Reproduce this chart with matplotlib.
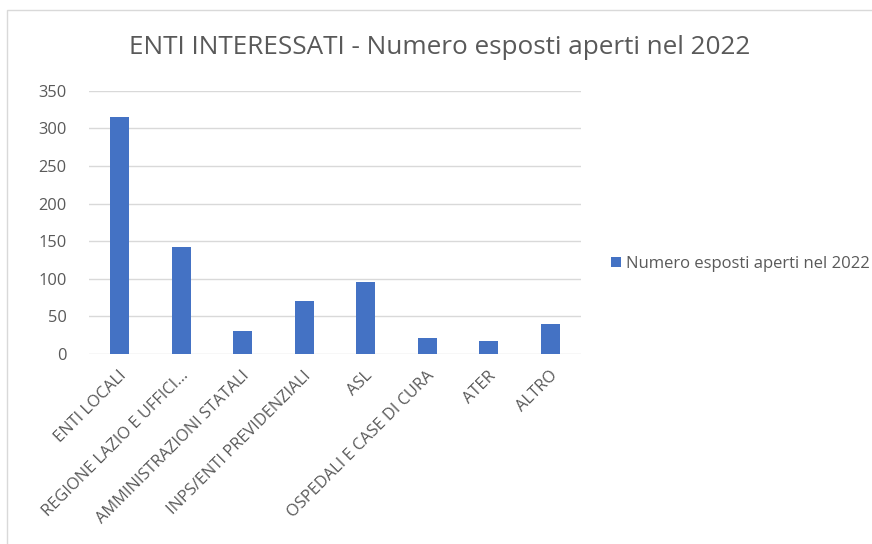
import matplotlib
matplotlib.use("Agg")
import matplotlib.pyplot as plt
import matplotlib.transforms as mtrans
from matplotlib.patches import Rectangle

categories = ["ENTI LOCALI", "REGIONE LAZIO E UFFICI...", "AMMINISTRAZIONI STATALI",
              "INPS/ENTI PREVIDENZIALI", "ASL", "OSPEDALI E CASE DI CURA", "ATER", "ALTRO"]
values = [315, 142, 30, 70, 96, 21, 17, 40]
yticks = [0, 50, 100, 150, 200, 250, 300, 350]
series_name = "Numero esposti aperti nel 2022"
title = "ENTI INTERESSATI - Numero esposti aperti nel 2022"

plt.rcParams['font.family'] = ['Open Sans', 'DejaVu Sans']
txt = "#595959"
bar_color = "#4472C4"

fig = plt.figure(figsize=(8.72, 5.44), dpi=100)
fig.patches.append(Rectangle((7/872, -0.1), 1.2, 1 - 10/544 + 0.1, transform=fig.transFigure,
                             fill=False, edgecolor="#d9d9d9", linewidth=1))

ax = fig.add_axes([89/872, 1 - 354/544, (581 - 89)/872, (354 - 90.7)/544])
x = list(range(len(categories)))
ax.bar(x, values, width=0.31, color=bar_color, label=series_name, zorder=3)
ax.set_xlim(-0.5, len(categories) - 0.5)
ax.set_ylim(0, 350)
ax.set_yticks(yticks)
ax.set_yticklabels([str(v) for v in yticks])
ax.yaxis.grid(True, color="#d9d9d9", linewidth=1, zorder=0)
for s in ax.spines.values():
    s.set_visible(False)
ax.tick_params(axis='both', length=0, colors=txt, labelsize=11.8)
ax.tick_params(axis='y', pad=16)
ax.set_xticks(x)
ax.set_xticklabels(categories, rotation=45, ha='right', rotation_mode='anchor')
ax.tick_params(axis='x', pad=10)
off = mtrans.ScaledTranslation(-1/100, 0, fig.dpi_scale_trans)
for lbl in ax.get_xticklabels():
    lbl.set_transform(lbl.get_transform() + off)

fig.text(440/872, 1 - 48/544, title, ha='center', va='center', fontsize=18.8, color=txt)

leg = fig.legend(handles=ax.get_legend_handles_labels()[0], labels=[series_name],
                 loc='center left', bbox_to_anchor=(596/872, 1 - 264/544), frameon=False,
                 fontsize=12, handlelength=0.6, handleheight=0.6, handletextpad=0.3,
                 labelcolor=txt)

fig.savefig("out.png", dpi=100)
